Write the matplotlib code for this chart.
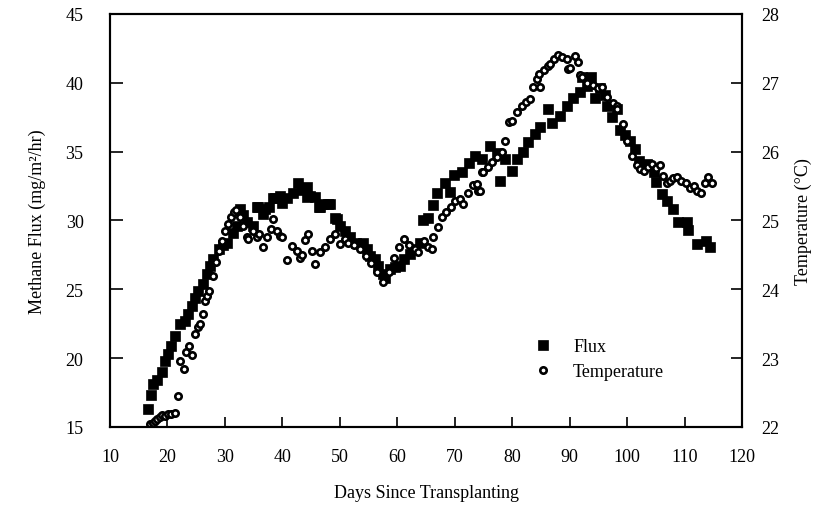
import numpy as np
import matplotlib
matplotlib.use('Agg')
import matplotlib.pyplot as plt

plt.rcParams['font.family'] = ['Liberation Serif', 'DejaVu Serif']

# Methane flux (filled squares, left axis)
flux_days = [16.6, 17.1, 17.5, 18.2, 19.0, 19.5, 20.1, 20.6, 21.3, 22.2,
             23.1, 23.6, 24.2, 24.8, 25.4, 26.2, 26.8, 27.4, 28.0, 28.9,
             29.7, 30.4, 31.4, 32.1, 32.6, 33.2, 33.8, 34.9, 35.5, 35.8,
             36.7, 37.0, 37.6, 38.4, 38.7, 39.6, 39.9, 40.8, 41.9, 42.8,
             43.4, 44.2, 44.2, 44.8, 45.7, 46.3, 46.5, 47.1, 48.0, 48.3,
             49.2, 49.5, 50.0, 50.9, 51.8, 52.9, 54.1, 54.7, 55.3, 56.1,
             56.7, 57.6, 57.9, 58.7, 59.6, 60.5, 61.1, 62.2, 63.1, 64.0,
             64.5, 65.4, 66.3, 66.9, 68.3, 69.2, 69.8, 71.2, 72.4, 73.5,
             74.7, 76.1, 77.3, 77.9, 78.8, 79.9, 80.8, 81.9, 82.8, 84.0,
             84.8, 86.3, 86.9, 88.3, 89.5, 90.6, 91.8, 92.1, 93.0, 93.8,
             94.4, 95.3, 96.2, 96.5, 97.3, 98.2, 98.8, 99.6, 100.5, 101.4,
             102.0, 102.5, 103.4, 104.6, 105.1, 106.0, 106.9, 108.0, 108.9, 110.4,
             110.6, 112.1, 113.8, 114.4]
flux_vals = [16.3, 17.3, 18.1, 18.4, 19.0, 19.8, 20.3, 20.9, 21.6, 22.5,
             22.7, 23.2, 23.8, 24.4, 24.9, 25.4, 26.1, 26.7, 27.2, 27.9,
             28.2, 28.4, 29.1, 29.6, 30.8, 30.4, 29.9, 29.6, 31.0, 31.0,
             30.5, 30.8, 31.0, 31.6, 31.6, 31.8, 31.3, 31.6, 32.0, 32.7,
             32.2, 32.4, 31.7, 31.8, 31.7, 31.0, 31.0, 31.2, 31.2, 31.2,
             30.2, 30.1, 29.6, 29.2, 28.8, 28.4, 28.4, 27.9, 27.4, 27.2,
             26.7, 26.1, 25.8, 26.5, 26.6, 26.7, 27.2, 27.6, 27.9, 28.4,
             30.0, 30.2, 31.1, 32.0, 32.7, 32.1, 33.3, 33.5, 34.2, 34.7,
             34.5, 35.4, 34.9, 32.9, 34.5, 33.6, 34.5, 35.0, 35.7, 36.3,
             36.8, 38.1, 37.1, 37.6, 38.3, 38.9, 39.3, 40.4, 39.8, 40.4,
             38.9, 39.6, 39.1, 38.3, 37.5, 38.1, 36.6, 36.2, 35.8, 35.2,
             34.3, 34.0, 34.1, 33.5, 32.8, 31.9, 31.4, 30.8, 29.9, 29.9,
             29.3, 28.3, 28.5, 28.1]

# Temperature (open circles, right axis)
temp_days = [17.0, 17.4, 17.8, 18.2, 18.7, 19.1, 19.6, 20.1, 20.7, 21.3,
             21.8, 22.2, 22.8, 23.2, 23.7, 24.2, 24.8, 25.4, 25.7, 26.1,
             26.5, 26.8, 27.3, 28.0, 28.5, 29.0, 29.5, 30.0, 30.6, 31.0,
             31.5, 32.0, 32.6, 33.2, 33.8, 34.1, 34.9, 35.5, 36.0, 36.6,
             37.3, 38.1, 38.4, 39.0, 39.6, 39.9, 40.8, 41.6, 42.5, 43.1,
             43.4, 43.9, 44.5, 45.1, 45.7, 46.6, 47.4, 48.3, 49.2, 50.0,
             50.9, 51.5, 52.5, 53.5, 54.5, 55.5, 56.5, 57.5, 58.5, 59.5,
             60.3, 61.1, 62.0, 63.0, 63.6, 64.6, 65.3, 66.0, 66.3, 67.0,
             67.7, 68.5, 69.3, 70.0, 70.9, 71.5, 72.3, 73.2, 73.8, 74.1,
             74.4, 74.7, 75.0, 75.8, 76.5, 77.3, 78.2, 78.8, 79.4, 80.0,
             80.8, 81.7, 82.4, 83.1, 83.7, 84.3, 84.6, 84.8, 85.5, 86.3,
             86.6, 87.2, 88.0, 88.7, 89.5, 89.7, 90.1, 90.9, 91.5, 91.8,
             92.1, 93.0, 94.0, 95.0, 95.6, 96.5, 97.6, 98.2, 98.3, 99.2,
             100.0, 100.8, 101.7, 102.3, 102.9, 103.6, 104.3, 105.0, 105.7, 106.3,
             106.9, 107.5, 108.0, 108.6, 109.4, 110.2, 111.0, 111.6, 112.2, 112.8,
             113.6, 114.1, 114.7]
temp_vals = [22.04, 22.06, 22.09, 22.12, 22.14, 22.18, 22.16, 22.19, 22.19, 22.21,
             22.45, 22.96, 22.84, 23.09, 23.18, 23.05, 23.35, 23.45, 23.50, 23.64,
             23.83, 23.91, 23.98, 24.20, 24.40, 24.55, 24.70, 24.85, 24.95, 25.05,
             25.12, 25.15, 25.05, 24.92, 24.76, 24.73, 24.85, 24.76, 24.80, 24.62,
             24.76, 24.88, 25.02, 24.85, 24.78, 24.76, 24.43, 24.63, 24.56, 24.46,
             24.50, 24.71, 24.80, 24.56, 24.37, 24.54, 24.61, 24.73, 24.80, 24.66,
             24.73, 24.68, 24.65, 24.58, 24.48, 24.38, 24.25, 24.10, 24.25, 24.45,
             24.62, 24.73, 24.65, 24.58, 24.54, 24.70, 24.62, 24.58, 24.76, 24.90,
             25.05, 25.12, 25.20, 25.28, 25.31, 25.24, 25.40, 25.51, 25.53, 25.43,
             25.43, 25.70, 25.70, 25.78, 25.85, 25.92, 25.99, 26.16, 26.43, 26.45,
             26.57, 26.67, 26.72, 26.77, 26.94, 27.06, 27.13, 26.94, 27.18, 27.25,
             27.27, 27.35, 27.40, 27.38, 27.35, 27.20, 27.22, 27.39, 27.30, 27.12,
             27.08, 27.00, 26.97, 26.92, 26.94, 26.80, 26.70, 26.67, 26.62, 26.40,
             26.15, 25.94, 25.80, 25.75, 25.72, 25.78, 25.82, 25.76, 25.80, 25.65,
             25.55, 25.58, 25.62, 25.63, 25.57, 25.55, 25.47, 25.50, 25.43, 25.40,
             25.55, 25.63, 25.55]

x_ticks = [10, 20, 30, 40, 50, 60, 70, 80, 90, 100, 110, 120]
flux_ticks = [15, 20, 25, 30, 35, 40, 45]
temp_ticks = [22, 23, 24, 25, 26, 27, 28]

fig = plt.figure(figsize=(8.13, 5.06), dpi=100)
ax = fig.add_axes([0.1353, 0.1542, 0.7774, 0.8162])
ax2 = ax.twinx()

sq, = ax.plot(flux_days, flux_vals, ls='none', marker='s', ms=7.8, color='black',
              mec='black', mew=0.5, label='Flux')
ci, = ax2.plot(temp_days, temp_vals, ls='none', marker='o', ms=4.6, mfc='white',
               mec='black', mew=1.9, label='Temperature')

ax.set_xlim(10, 120)
ax.set_ylim(15, 45)
ax2.set_ylim(22, 28)
ax.set_xticks(x_ticks)
ax.set_yticks(flux_ticks)
ax2.set_yticks(temp_ticks)

for a in (ax, ax2):
    for s in a.spines.values():
        s.set_linewidth(1.5)

ax.tick_params(axis='x', direction='in', length=7, width=1.2, pad=15, labelsize=13)
ax.tick_params(axis='y', direction='in', length=9, width=1.2, pad=19, labelsize=13)
ax2.tick_params(axis='y', direction='in', length=8, width=1.2, pad=14, labelsize=13)

ax.set_xlabel('Days Since Transplanting', fontsize=13, labelpad=14)
ax.set_ylabel('Methane Flux (mg/m\u00b2/hr)', fontsize=13, labelpad=14)
ax2.set_ylabel('Temperature (\u00b0C)', fontsize=13, labelpad=11)

ax2.legend([sq, ci], ['Flux', 'Temperature'], loc='upper left',
           bbox_to_anchor=(0.657, 0.233), frameon=False, fontsize=13,
           handletextpad=1.05, labelspacing=0.45, borderaxespad=0,
           handlelength=1.2)

fig.savefig('out.png', dpi=100)
